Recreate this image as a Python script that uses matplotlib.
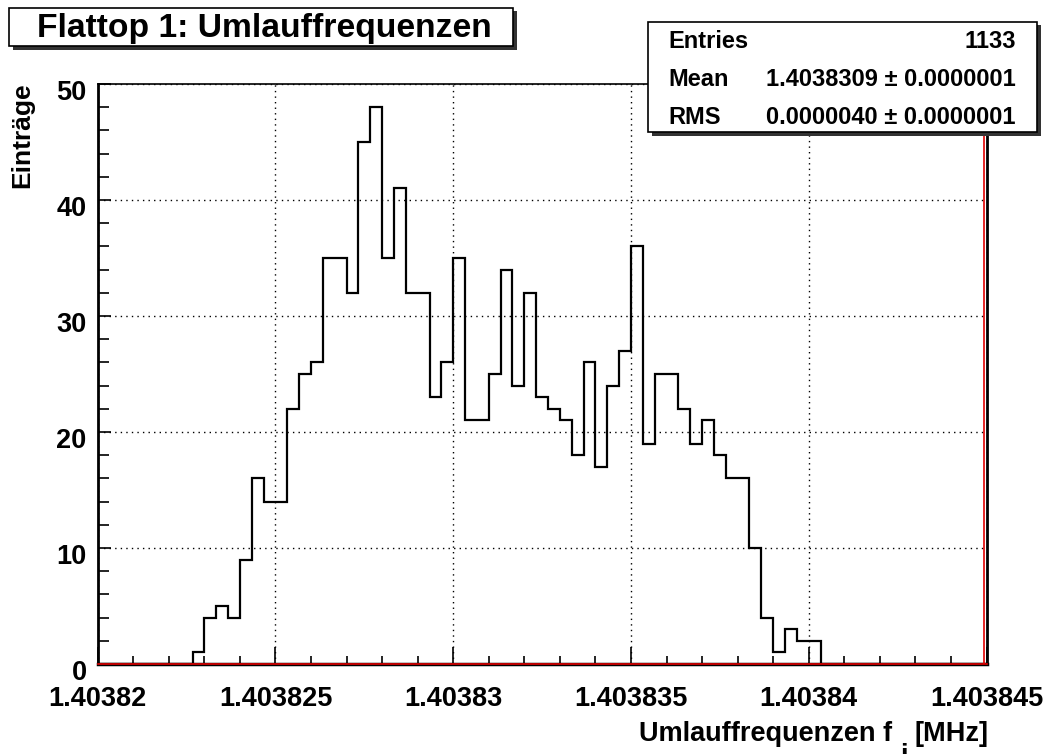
import numpy as np
import matplotlib
matplotlib.use("Agg")
import matplotlib.pyplot as plt
from matplotlib.patches import Rectangle
from matplotlib.ticker import MultipleLocator, FixedLocator
from matplotlib.transforms import ScaledTranslation

plt.rcParams['font.family'] = ['Liberation Sans', 'DejaVu Sans']
plt.rcParams['font.weight'] = 'bold'

# Histogram definition: 75 bins over the frequency window [MHz]
x_min = 1.40382
x_max = 1.403845
n_bins = 75
first_bin = 8
counts = [1, 4, 5, 4, 9, 16, 14, 14, 22, 25, 26, 35, 35, 32, 45, 48, 35, 41,
          32, 32, 23, 26, 35, 21, 21, 25, 34, 24, 32, 23, 22, 21, 18, 26, 17,
          24, 27, 36, 19, 25, 25, 22, 19, 21, 18, 16, 16, 10, 4, 1, 3, 2, 2]

x_ticks = [1.40382, 1.403825, 1.40383, 1.403835, 1.40384, 1.403845]
x_tick_labels = ["1.40382", "1.403825", "1.40383", "1.403835", "1.40384", "1.403845"]
y_ticks = [0, 10, 20, 30, 40, 50]

title = "Flattop 1: Umlauffrequenzen"
x_title_main = "Umlauffrequenzen f"
x_title_sub = "i"
x_title_unit = "[MHz]"
y_title = "Einträge"
stats_rows = [("Entries", "1133"),
              ("Mean", "1.4038309 \u00b1 0.0000001"),
              ("RMS", "0.0000040 \u00b1 0.0000001")]

W, H = 1048, 754
fig = plt.figure(figsize=(W / 100, H / 100), dpi=100)
fig.patch.set_facecolor("white")


def fx(px):
    return px / W


def fy(py):
    return 1 - py / H


ax_l, ax_r, ax_t, ax_b = 97.7, 986.5, 84, 664
ax = fig.add_axes([fx(ax_l), fy(ax_b), fx(ax_r) - fx(ax_l), fy(ax_t) - fy(ax_b)])

edges = np.linspace(x_min, x_max, n_bins + 1)
full_counts = np.zeros(n_bins)
full_counts[first_bin:first_bin + len(counts)] = counts
ax.stairs(full_counts, edges, color="black", linewidth=1.6, zorder=3)

ax.set_xlim(x_min, x_max)
ax.set_ylim(0, 50)

ax.xaxis.set_major_locator(FixedLocator(x_ticks))
ax.set_xticklabels(x_tick_labels)
ax.xaxis.set_minor_locator(MultipleLocator(1e-6))
ax.yaxis.set_major_locator(FixedLocator(y_ticks))
ax.yaxis.set_minor_locator(MultipleLocator(2))

ax.tick_params(axis="both", which="both", direction="in", top=False, right=False,
               color="black", width=1.2)
ax.tick_params(axis="x", which="major", length=12.5, labelsize=19.5, pad=16)
ax.tick_params(axis="x", which="minor", length=6)
ax.tick_params(axis="y", which="major", length=9, labelsize=19.5, pad=8)
ax.tick_params(axis="y", which="minor", length=8)
shift_down = ScaledTranslation(0, -6 / 100, fig.dpi_scale_trans)
for lbl in ax.get_xticklabels() + ax.get_yticklabels():
    lbl.set_fontweight("bold")
for lbl in ax.get_yticklabels():
    lbl.set_transform(lbl.get_transform() + shift_down)

ax.grid(True, which="major", color="black", linestyle=(0, (1, 3)), linewidth=1.0)
for s in ax.spines.values():
    s.set_linewidth(1.2)
ax.spines["left"].set_linewidth(2.0)
ax.spines["bottom"].set_linewidth(2.5)
ax.spines["right"].set_linewidth(2.0)

# red function frame along the bottom and right edges
ax.plot([x_min, x_max], [0, 0], color="#e00000", linewidth=1.2, zorder=4,
        clip_on=False)
ax.axvline(x_max - 0.06e-6, color="#e00000", linewidth=1.2, zorder=4)

# y axis title
fig.text(fx(22), fy(82), y_title, rotation=90, ha="center", va="top",
         fontsize=19, fontweight="bold")

# x axis title, assembled right-to-left with a deep subscript
fig.canvas.draw()
renderer = fig.canvas.get_renderer()
t_unit = fig.text(fx(989), fy(741), x_title_unit, ha="right", va="baseline",
                  fontsize=19.5, fontweight="bold")
bb = t_unit.get_window_extent(renderer)
t_sub = fig.text((bb.x0 - 7) / W, fy(763), x_title_sub, ha="right",
                 va="baseline", fontsize=19.5, fontweight="bold")
bb2 = t_sub.get_window_extent(renderer)
fig.text((bb2.x0 - 8) / W, fy(741), x_title_main, ha="right", va="baseline",
         fontsize=19.5, fontweight="bold")


def boxed(x0, y0, x1, y1, shadow=3.5):
    fig.patches.append(Rectangle((fx(x0 + shadow), fy(y1 + shadow)),
                                 fx(x1 - x0), fy(y0) - fy(y1),
                                 transform=fig.transFigure, facecolor="#333333",
                                 edgecolor="none", zorder=5))
    fig.patches.append(Rectangle((fx(x0), fy(y1)), fx(x1 - x0), fy(y0) - fy(y1),
                                 transform=fig.transFigure, facecolor="white",
                                 edgecolor="black", linewidth=1.2, zorder=6))


# title box
boxed(9, 8, 513, 46)
fig.text(fx(264), fy(28), title, ha="center", va="center", fontsize=24.2,
         fontweight="bold", zorder=7)

# statistics box
boxed(648, 22, 1037, 132)
row_y = [42, 80, 117]
for (name, val), yy in zip(stats_rows, row_y):
    fig.text(fx(668), fy(yy), name, ha="left", va="center", fontsize=17,
             fontweight="bold", zorder=7)
    fig.text(fx(1016), fy(yy), val, ha="right", va="center", fontsize=17,
             fontweight="bold", zorder=7)

fig.savefig("out.png", dpi=100, facecolor="white")
